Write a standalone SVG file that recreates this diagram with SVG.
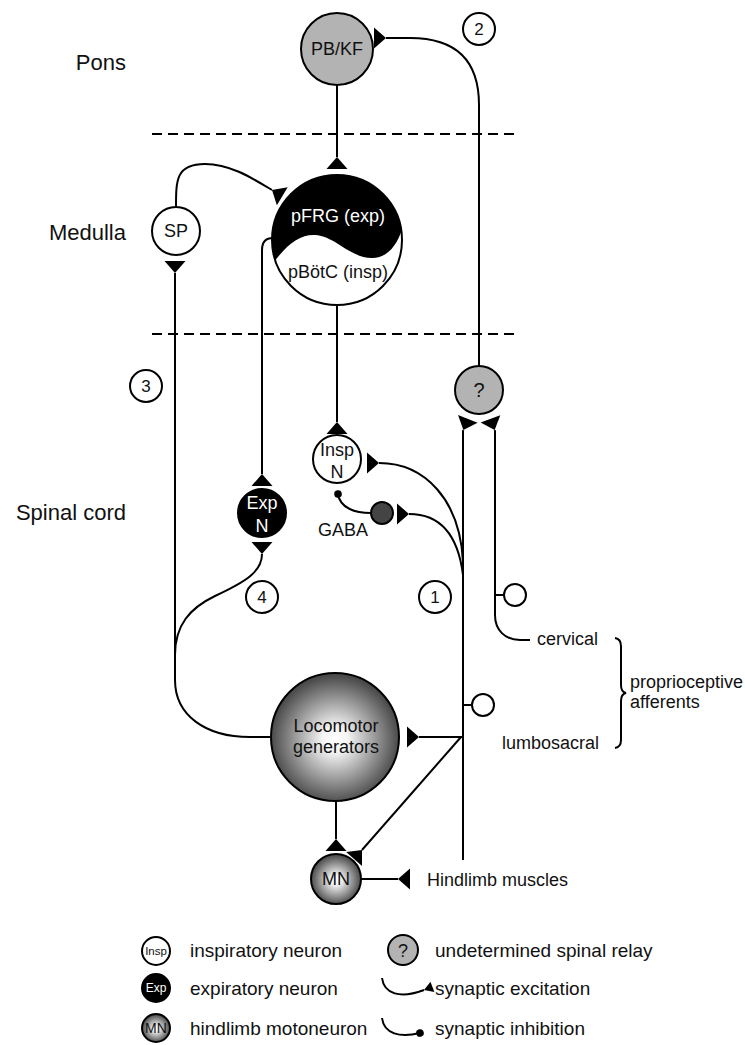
<svg xmlns="http://www.w3.org/2000/svg" width="745" height="1045" viewBox="0 0 745 1045">
<style>
text{font-family:"Liberation Sans",Arial,sans-serif;fill:#111}
.t18{font-size:18px}
.lbl{font-size:22px}
.leg{font-size:19px}
.num{font-size:17px;text-anchor:middle}
.mid{text-anchor:middle}
.w{fill:#fff}
.ln{fill:none;stroke:#000;stroke-width:2}
.ex{marker-end:url(#ex)}
.node{stroke:#000;stroke-width:2}
.dash{stroke:#000;stroke-width:2;stroke-dasharray:10 6}
</style>
<defs>
<marker id="ex" markerUnits="userSpaceOnUse" markerWidth="30" markerHeight="30" refX="0" refY="0" orient="auto" overflow="visible">
<path d="M0,0 L12,-10.5 L12,10.5 Z" fill="#000"/>
</marker>
<marker id="exs" markerUnits="userSpaceOnUse" markerWidth="20" markerHeight="20" refX="0" refY="0" orient="auto" overflow="visible">
<path d="M0,0 L9,-5.5 L9,5.5 Z" fill="#000"/>
</marker>
<marker id="inh" markerUnits="userSpaceOnUse" markerWidth="10" markerHeight="10" refX="0" refY="0" orient="auto" overflow="visible">
<circle cx="0" cy="0" r="3.8" fill="#000"/>
</marker>
<radialGradient id="gr" cx="50%" cy="52%" r="50%">
<stop offset="0" stop-color="#ffffff"/>
<stop offset="0.2" stop-color="#f4f4f4"/>
<stop offset="1" stop-color="#4a4a4a"/>
</radialGradient>
<clipPath id="cp"><circle cx="337" cy="240" r="65"/></clipPath>
</defs>

<g id="region-labels">
<text class="lbl" x="126" y="70" text-anchor="end">Pons</text>
<text class="lbl" x="126" y="240" text-anchor="end">Medulla</text>
<text class="lbl" x="126" y="520" text-anchor="end">Spinal cord</text>
<line class="dash" x1="152" y1="134" x2="514" y2="134"/>
<line class="dash" x1="152" y1="334" x2="514" y2="334"/>
</g>

<g id="connectors">
<path class="ln ex" d="M337,85 L337,157"/>
<path class="ln ex" d="M479,366 L479,105 C479,60 455,38 410,38 L386,38"/>
<path class="ln ex" d="M176,207 C176,180 176,164 205,164 C230,164 252,178 272,190"/>
<path class="ln ex" d="M270,737 L250,737 C205,737 175,715 175,680 L175,273"/>
<path class="ln ex" d="M175,655 C175,625 190,608 215,596 C245,582 262,572 262,554"/>
<path class="ln ex" d="M273,238 Q262,238 262,250 L262,474"/>
<path class="ln ex" d="M337,305 L337,422"/>
<path class="ln ex" d="M463,860 L463,431 l0.37,-0.93"/>
<path class="ln ex" d="M530,640 L520,640 C505,640 495,630 495,615 L495,431 l-0.35,-0.94"/>
<path class="ln" d="M495,595 L504,595"/>
<path class="ln" d="M463,705 L472,705"/>
<path class="ln ex" d="M463,562 C460,500 425,463 379,463"/>
<path class="ln ex" d="M463,575 C458,535 440,514 409,514"/>
<path class="ln" style="marker-end:url(#inh)" d="M371,513 C355,513 340,508 338,494"/>
<path class="ln ex" d="M463,737 L419,737"/>
<path class="ln ex" d="M461,737 L362,850"/>
<path class="ln ex" d="M336,801 L336,839"/>
<path class="ln ex" d="M361,879 L398,879"/>
</g>

<g id="PBKF">
<circle class="node" cx="337" cy="49" r="36" fill="#b3b3b3"/>
<text class="t18 mid" x="337" y="55">PB/KF</text>
</g>

<g id="pFRG-pBotC">
<circle cx="337" cy="240" r="65" fill="#fff"/>
<path clip-path="url(#cp)" d="M270,268 C285,245 300,234 315,235 C335,236 350,258 372,258 C390,258 400,240 404,222 L404,170 L270,170 Z" fill="#000"/>
<circle class="node" cx="337" cy="240" r="65" fill="none"/>
<text class="t18 mid w" x="338" y="222">pFRG (exp)</text>
<text class="t18 mid" x="338" y="278">pBötC (insp)</text>
</g>

<g id="SP">
<circle class="node" cx="176" cy="231" r="24" fill="#fff"/>
<text class="t18 mid" x="176" y="237">SP</text>
</g>

<g id="relay">
<circle class="node" cx="479" cy="390" r="24" fill="#b3b3b3"/>
<text class="mid" style="font-size:20px" x="479" y="397">?</text>
</g>

<g id="InspN">
<circle class="node" cx="337" cy="459" r="24" fill="#fff"/>
<text class="t18 mid" x="337" y="456">Insp</text>
<text class="t18 mid" x="337" y="478">N</text>
</g>

<g id="ExpN">
<circle class="node" cx="262" cy="513" r="24" fill="#000"/>
<text class="t18 mid w" x="262" y="509">Exp</text>
<text class="t18 mid w" x="262" y="532">N</text>
</g>

<g id="GABA">
<circle class="node" cx="382" cy="513" r="11" fill="#444"/>
<text class="t18 mid" x="343" y="536">GABA</text>
</g>

<g id="Locomotor">
<circle class="node" cx="335" cy="737" r="64" fill="url(#gr)"/>
<text class="t18 mid" x="336" y="732">Locomotor</text>
<text class="t18 mid" x="336" y="753">generators</text>
</g>

<g id="MN">
<circle class="node" cx="336" cy="879" r="25" fill="url(#gr)"/>
<text class="t18 mid" x="336" y="885">MN</text>
</g>

<g id="afferents">
<circle class="node" cx="515" cy="595" r="11" fill="#fff"/>
<circle class="node" cx="483" cy="705" r="11" fill="#fff"/>
<text class="t18" x="537" y="645">cervical</text>
<text class="t18" x="502" y="749">lumbosacral</text>
<path class="ln" d="M615,638 Q621,639 621,646 L621,685 Q621,692 626,693 Q621,694 621,701 L621,740 Q621,747 615,748"/>
<text class="t18" x="630" y="688">proprioceptive</text>
<text class="t18" x="630" y="708">afferents</text>
<text class="t18" x="427" y="886">Hindlimb muscles</text>
</g>

<g id="numbers">
<circle class="node" cx="479" cy="29" r="16" fill="#fff"/>
<text class="num" x="479" y="35">2</text>
<circle class="node" cx="146" cy="386" r="16" fill="#fff"/>
<text class="num" x="146" y="392">3</text>
<circle class="node" cx="262" cy="597" r="16" fill="#fff"/>
<text class="num" x="262" y="603">4</text>
<circle class="node" cx="435" cy="597" r="16" fill="#fff"/>
<text class="num" x="435" y="603">1</text>
</g>

<g id="legend">
<circle class="node" cx="156" cy="951" r="14" fill="#fff"/>
<text class="mid" style="font-size:11.5px" x="156" y="955">Insp</text>
<text class="leg" x="190" y="957">inspiratory neuron</text>
<circle class="node" cx="156" cy="988" r="14" fill="#000"/>
<text class="mid w" style="font-size:12px" x="156" y="992">Exp</text>
<text class="leg" x="190" y="995">expiratory neuron</text>
<circle class="node" cx="156" cy="1028" r="14" fill="url(#gr)"/>
<text class="mid" style="font-size:14px" x="156" y="1033">MN</text>
<text class="leg" x="190" y="1035">hindlimb motoneuron</text>
<circle class="node" cx="403" cy="950" r="15" fill="#b3b3b3"/>
<text class="mid" style="font-size:18px" x="403" y="957">?</text>
<text class="leg" x="435" y="957">undetermined spinal relay</text>
<path class="ln" style="marker-end:url(#exs)" d="M382,978 C384,994 400,999 424,990"/>
<text class="leg" x="435" y="995">synaptic excitation</text>
<path class="ln" style="marker-end:url(#inh)" d="M382,1018 C384,1034 400,1038 420,1033"/>
<text class="leg" x="435" y="1035">synaptic inhibition</text>
</g>
</svg>
